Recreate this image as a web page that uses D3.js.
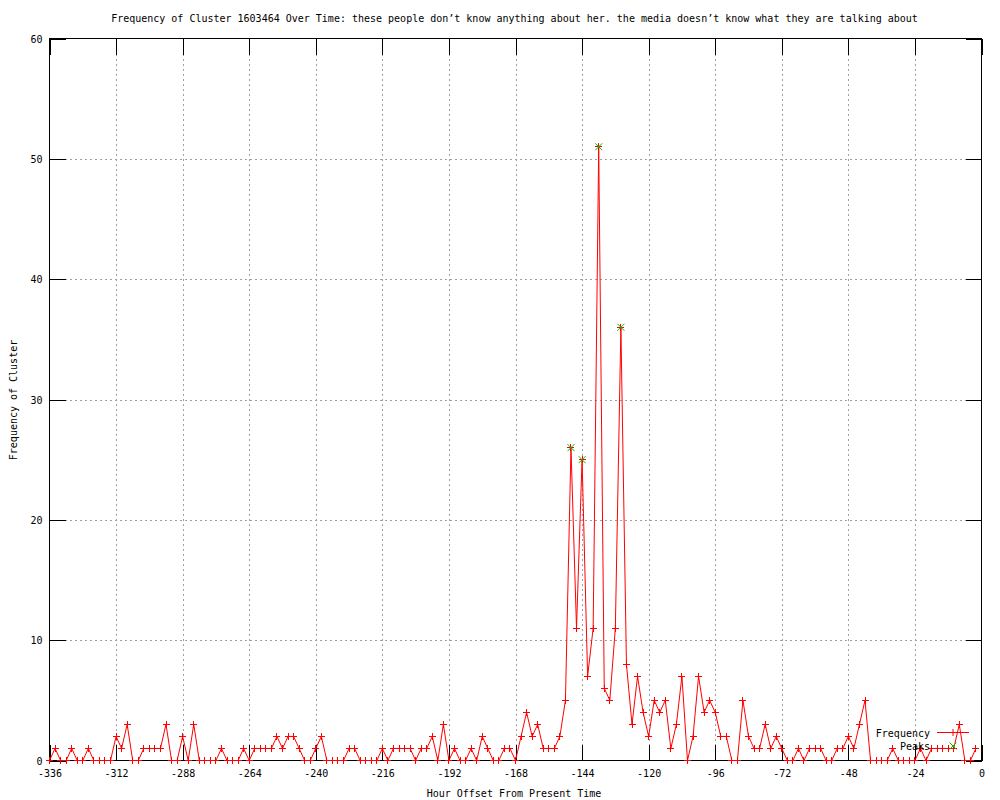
<!DOCTYPE html>
<html>
<head>
<meta charset="utf-8">
<script src="https://cdn.jsdelivr.net/npm/d3@7"></script>
<style>
  html, body { margin: 0; padding: 0; background: #fff; }
  svg { display: block; }
  text { font-family: "DejaVu Sans Mono", "Liberation Mono", monospace; font-size: 10px; fill: #000; }
</style>
</head>
<body>
<svg id="chart" width="1000" height="800"></svg>
<script>
// ---- data ----
const titleText = "Frequency of Cluster 1603464 Over Time: these people don\u2019t know anything about her. the media doesn\u2019t know what they are talking about";
const xLabel = "Hour Offset From Present Time";
const yLabel = "Frequency of Cluster";
const xTicks = [-336, -312, -288, -264, -240, -216, -192, -168, -144, -120, -96, -72, -48, -24, 0];
const yTicks = [0, 10, 20, 30, 40, 50, 60];

// hours -336 .. -2 in steps of 2
const hours = d3.range(-336, 0, 2);
const frequency = [
  0, 1, 0, 0, 1, 0, 0, 1, 0, 0, 0, 0,      // -336 .. -314
  2, 1, 3, 0, 0, 1, 1, 1, 1, 3, 0, 0,      // -312 .. -290
  2, 0, 3, 0, 0, 0, 0, 1, 0, 0, 0, 1,      // -288 .. -266
  0, 1, 1, 1, 1, 2, 1, 2, 2, 1, 0, 0,      // -264 .. -242
  1, 2, 0, 0, 0, 0, 1, 1, 0, 0, 0, 0,      // -240 .. -218
  1, 0, 1, 1, 1, 1, 0, 1, 1, 2, 0, 3,      // -216 .. -194
  0, 1, 0, 0, 1, 0, 2, 1, 0, 0, 1, 1,      // -192 .. -170
  0, 2, 4, 2, 3, 1, 1, 1, 2, 5, 26, 11,    // -168 .. -146
  25, 7, 11, 51, 6, 5, 11, 36, 8, 3, 7, 4, // -144 .. -122
  2, 5, 4, 5, 1, 3, 7, 0, 2, 7, 4, 5,      // -120 .. -98
  4, 2, 2, 0, 0, 5, 2, 1, 1, 3, 1, 2,      // -96 .. -74
  1, 0, 0, 1, 0, 1, 1, 1, 0, 0, 1, 1,      // -72 .. -50
  2, 1, 3, 5, 0, 0, 0, 0, 1, 0, 0, 0,      // -48 .. -26
  0, 1, 0, 1, 1, 1, 1, 1, 3, 0, 0, 1       // -24 .. -2
];
const peakHours = [-148, -144, -138, -130];
const peakValues = [26, 25, 51, 36];
const legendLabels = ["Frequency", "Peaks"];

// ---- layout ----
const svg = d3.select("#chart");
const pLeft = 49.5, pRight = 981.5, pTop = 38.5, pBottom = 760.5;
const x = d3.scaleLinear().domain([-336, 0]).range([pLeft, pRight]);
const y = d3.scaleLinear().domain([0, 60]).range([pBottom, pTop]);
const red = "#ff0000", green = "#00c000", gridColor = "#a0a0a0";
const ticLen = 16;

// grid
const grid = svg.append("g").attr("shape-rendering", "crispEdges");
grid.selectAll("line.gx").data(xTicks.slice(1, -1)).join("line")
  .attr("x1", d => Math.round(x(d)) + 0.5).attr("x2", d => Math.round(x(d)) + 0.5)
  .attr("y1", pTop).attr("y2", pBottom)
  .attr("stroke", gridColor).attr("stroke-dasharray", "2,3");
grid.selectAll("line.gy").data(yTicks.slice(1, -1)).join("line")
  .attr("y1", d => Math.round(y(d)) + 0.5).attr("y2", d => Math.round(y(d)) + 0.5)
  .attr("x1", pLeft).attr("x2", pRight)
  .attr("stroke", gridColor).attr("stroke-dasharray", "2,3");

// axes via d3-axis (ticks inward, both sides)
function styleAxis(g) {
  g.select(".domain").remove();
  g.selectAll(".tick line").attr("stroke", "#000").attr("shape-rendering", "crispEdges");
}
const xAxisB = d3.axisBottom(x).tickValues(xTicks).tickSizeInner(-ticLen).tickSizeOuter(0).tickPadding(5);
const gxb = svg.append("g").attr("transform", `translate(0,${pBottom})`).call(xAxisB);
styleAxis(gxb);
gxb.selectAll(".tick text").attr("dy", null).attr("y", 13).attr("dominant-baseline", "central")
  .attr("font-family", null).attr("font-size", null)
  .text(d => d < 0 ? "-" + Math.abs(d) : String(d));
const xAxisT = d3.axisTop(x).tickValues(xTicks).tickSizeInner(-ticLen).tickSizeOuter(0).tickFormat("");
const gxt = svg.append("g").attr("transform", `translate(0,${pTop})`).call(xAxisT);
styleAxis(gxt);

const yAxisL = d3.axisLeft(y).tickValues(yTicks).tickSizeInner(-ticLen).tickSizeOuter(0).tickFormat(d3.format("d"));
const gyl = svg.append("g").attr("transform", `translate(${pLeft},0)`).call(yAxisL);
styleAxis(gyl);
gyl.selectAll(".tick text").attr("font-family", null).attr("font-size", null).attr("x", -7)
  .attr("dy", null).attr("dominant-baseline", "central");
const yAxisR = d3.axisRight(y).tickValues(yTicks).tickSizeInner(-ticLen).tickSizeOuter(0).tickFormat("");
const gyr = svg.append("g").attr("transform", `translate(${pRight},0)`).call(yAxisR);
styleAxis(gyr);

// frame
svg.append("rect").attr("x", pLeft).attr("y", pTop).attr("width", pRight - pLeft).attr("height", pBottom - pTop)
  .attr("fill", "none").attr("stroke", "#000").attr("shape-rendering", "crispEdges");

// data line
const pts = hours.map((h, i) => [h, frequency[i]]);
const line = d3.line().x(d => x(d[0])).y(d => y(d[1]));
svg.append("path").datum(pts).attr("d", line).attr("fill", "none").attr("stroke", red).attr("stroke-width", 1);

const plusPath = "M-3.5,0H3.5M0,-3.5V3.5";
const crossPath = "M-3.5,-3.5L3.5,3.5M-3.5,3.5L3.5,-3.5";
svg.append("g").selectAll("path").data(pts).join("path")
  .attr("transform", d => `translate(${x(d[0])},${y(d[1])})`)
  .attr("d", plusPath).attr("stroke", red).attr("fill", "none").attr("shape-rendering", "crispEdges");

// peaks
const peaks = peakHours.map((h, i) => [h, peakValues[i]]);
svg.append("g").selectAll("path").data(peaks).join("path")
  .attr("transform", d => `translate(${x(d[0])},${y(d[1])})`)
  .attr("d", crossPath).attr("stroke", green).attr("fill", "none");

// legend
const lg = svg.append("g");
lg.append("text").attr("x", 930).attr("y", 733).attr("text-anchor", "end").attr("dominant-baseline", "central").text(legendLabels[0]);
lg.append("line").attr("x1", 937).attr("x2", 969).attr("y1", 732.5).attr("y2", 732.5).attr("stroke", red);
lg.append("path").attr("transform", "translate(953,732.5)").attr("d", plusPath).attr("stroke", red).attr("fill", "none");
lg.append("text").attr("x", 930).attr("y", 746).attr("text-anchor", "end").attr("dominant-baseline", "central").text(legendLabels[1]);
lg.append("path").attr("transform", "translate(953,746)").attr("d", crossPath).attr("stroke", green).attr("fill", "none");

// titles
svg.append("text").attr("x", 514.5).attr("y", 18).attr("text-anchor", "middle").attr("dominant-baseline", "central").text(titleText);
svg.append("text").attr("x", 514).attr("y", 793).attr("text-anchor", "middle").attr("dominant-baseline", "central").text(xLabel);
svg.append("text").attr("transform", "translate(13,400) rotate(-90)").attr("text-anchor", "middle").attr("dominant-baseline", "central").text(yLabel);
</script>
</body>
</html>
